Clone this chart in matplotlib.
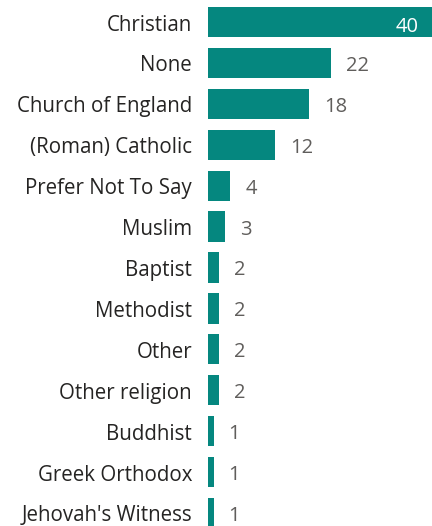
import matplotlib.pyplot as plt

categories = ["Christian", "None", "Church of England", "(Roman) Catholic",
              "Prefer Not To Say", "Muslim", "Baptist", "Methodist", "Other",
              "Other religion", "Buddhist", "Greek Orthodox", "Jehovah's Witness"]
counts = [40, 22, 18, 12, 4, 3, 2, 2, 2, 2, 1, 1, 1]

bar_color = "#05877f"
plt.rcParams['font.family'] = ['Open Sans', 'DejaVu Sans']

fig = plt.figure(figsize=(4.32, 5.26), dpi=100)
ax = fig.add_axes([208 / 432, 0, 224 / 432, 1])

pos = list(range(len(categories)))
ax.barh(pos, counts, height=0.74, color=bar_color)
ax.set_xlim(0, 40)
ax.set_ylim(12.32, -0.538)
ax.axis('off')

for i, (c, v) in enumerate(zip(categories, counts)):
    ax.annotate(c, xy=(0, i), xytext=(-16, -3), textcoords='offset pixels',
                ha='right', va='center', fontsize=14.8, color="#252423")
    if v == max(counts):
        ax.annotate(str(v), xy=(v, i), xytext=(-13, -5), textcoords='offset pixels',
                    ha='right', va='center', fontsize=14.5, color="white")
    else:
        ax.annotate(str(v), xy=(v, i), xytext=(15, -3), textcoords='offset pixels',
                    ha='left', va='center', fontsize=14.5, color="#605e5c")

fig.savefig("out.png", dpi=100)
